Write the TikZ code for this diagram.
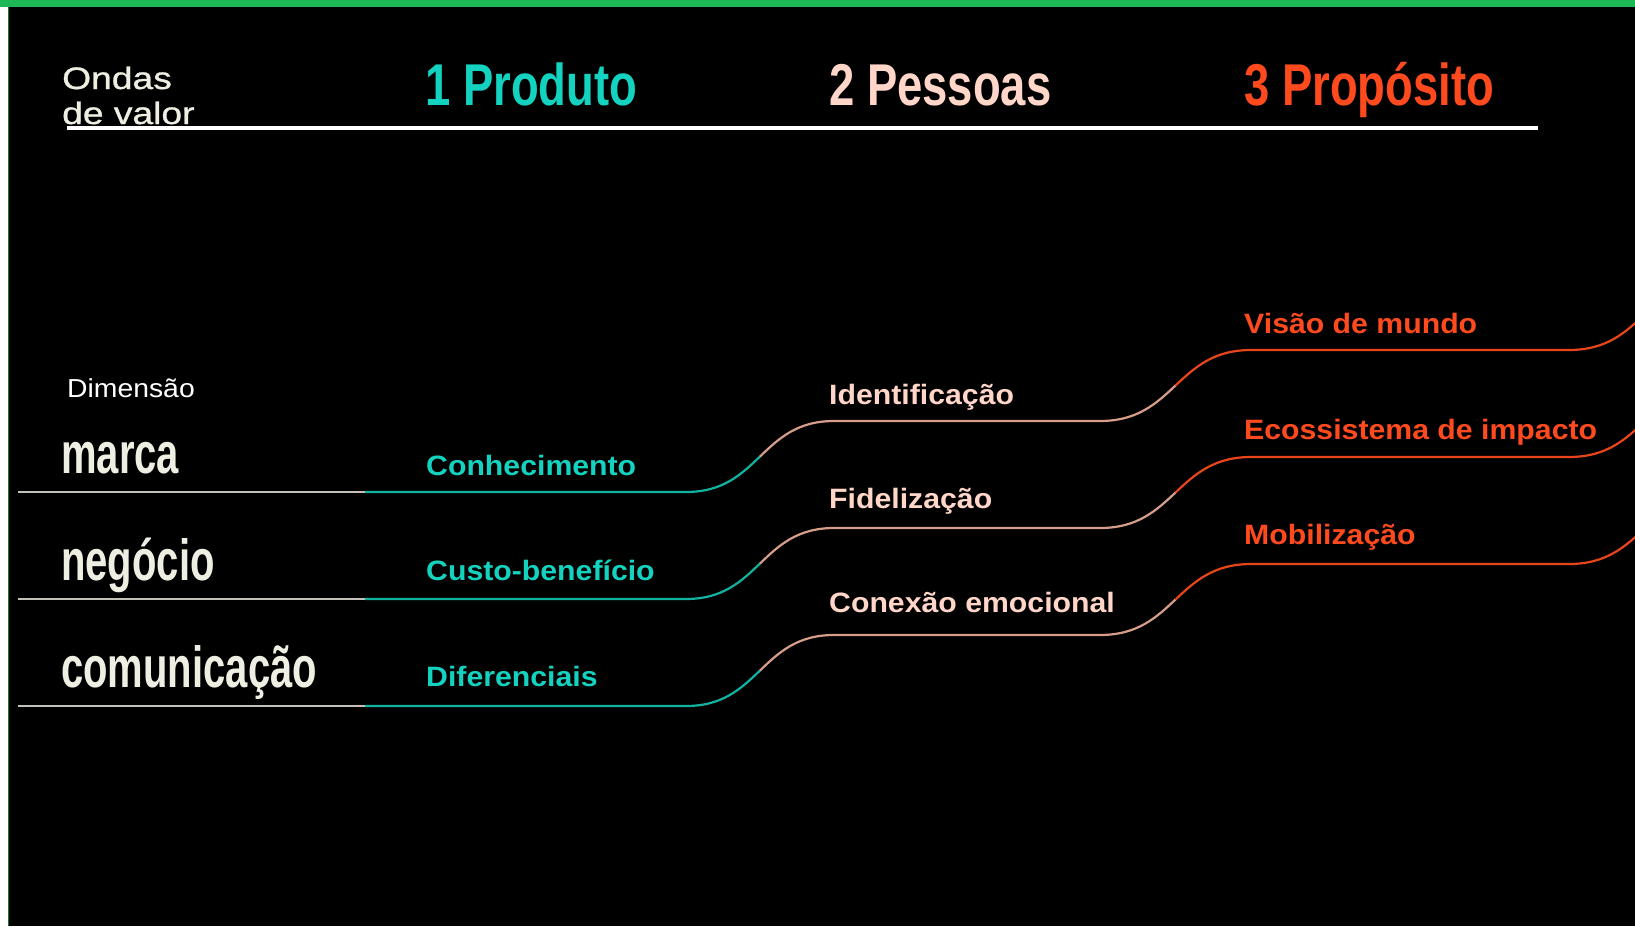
\documentclass[tikz,border=0pt]{standalone}
\usepackage{fontspec}
\setmainfont{Liberation Sans}
\newfontfamily\headfont[FakeStretch=0.77]{Liberation Sans Bold}
\newfontfamily\dimfont[FakeStretch=0.69]{Liberation Sans Bold}
\newfontfamily\labfont[FakeStretch=1.08]{Liberation Sans Bold}
\newfontfamily\ondfont[FakeStretch=1.2,FakeBold=1]{Liberation Sans}
\newfontfamily\dmsfont[FakeStretch=1.09]{Liberation Sans}
\definecolor{cTeal}{RGB}{20,210,192}
\definecolor{cTealLine}{RGB}{16,178,160}
\definecolor{cPeach}{RGB}{255,214,200}
\definecolor{cPeachLine}{RGB}{214,158,138}
\definecolor{cOrange}{RGB}{255,74,30}
\definecolor{cOrangeLine}{RGB}{232,70,26}
\definecolor{cCream}{RGB}{238,238,226}
\definecolor{cGrayLine}{RGB}{196,194,182}
\definecolor{cGreen}{RGB}{30,184,86}
\definecolor{cGreenDark}{RGB}{14,120,60}
\tikzset{
  lbl/.style={anchor=base west, inner sep=0pt},
  headtxt/.style={lbl, font=\headfont\fontsize{59}{59}\selectfont},
  dimtxt/.style={lbl, text=cCream, font=\dimfont\fontsize{58}{58}\selectfont},
  labtxt/.style={lbl, font=\labfont\fontsize{28}{28}\selectfont},
  grayline/.style={draw=cGrayLine, line width=2.2pt},
  tealline/.style={draw=cTealLine, line width=2.2pt},
  peachline/.style={draw=cPeachLine, line width=2.2pt},
  orangeline/.style={draw=cOrangeLine, line width=2.2pt}
}
\begin{document}
\begin{tikzpicture}[x=1pt,y=-1pt]
\useasboundingbox (0,0) rectangle (1635,926);
\fill[black] (0,0) rectangle (1635,926);
\fill[cGreen] (0,0) rectangle (1635,7);
\fill[white] (0,7) rectangle (8,926);
\draw[cGreenDark, line width=1pt] (8.5,7) -- (8.5,926);
\clip (9,7) rectangle (1635,926);

% header
\node[lbl, text=cCream, font=\ondfont\fontsize{31}{31}\selectfont] (ondas) at (62,89) {Ondas};
\node[lbl, text=cCream, font=\ondfont\fontsize{31}{31}\selectfont] (devalor) at (62,124) {de valor};
\node[headtxt, text=cTeal] (produto) at (425,105) {1 Produto};
\node[headtxt, text=cPeach] (pessoas) at (829,105) {2 Pessoas};
\node[headtxt, text=cOrange] (proposito) at (1244,105) {3 Propósito};
\coordinate (hl0) at (67,128);
\coordinate (hl1) at (1538,128);
\draw[white, line width=4pt] (hl0) -- (hl1);

% dimension column
\node[lbl, text=white, font=\dmsfont\fontsize{26}{26}\selectfont] (dimensao) at (67,397) {Dimensão};
\node[dimtxt] (marca) at (61,473) {marca};
\node[dimtxt] (negocio) at (61,580) {negócio};
\node[dimtxt] (comunicacao) at (61,687) {comunicação};

% wave lines
\foreach \yy in {492,599,706}{
  \begin{scope}[shift={(0,\yy)}]
    \draw[grayline] (18,0) -- (365,0);
    \draw[tealline] (365,0) -- (686,0) .. controls (723,0) and (741.5,-17.75) .. (760,-35.5);
    \draw[peachline] (760,-35.5) .. controls (778.5,-53.25) and (797,-71) .. (834,-71)
      -- (1100,-71) .. controls (1137.75,-71) and (1156.6,-88.75) .. (1175.5,-106.5);
    \draw[orangeline] (1175.5,-106.5) .. controls (1194.4,-124.25) and (1213.25,-142) .. (1251,-142)
      -- (1569,-142) .. controls (1644.5,-142) and (1644.5,-213) .. (1720,-213);
  \end{scope}
}

% labels
\node[labtxt, text=cTeal] (conhecimento) at (426,475) {Conhecimento};
\node[labtxt, text=cTeal] (custo) at (426,580) {Custo-benefício};
\node[labtxt, text=cTeal] (diferenciais) at (426,686) {Diferenciais};
\node[labtxt, text=cPeach] (identificacao) at (829,404) {Identificação};
\node[labtxt, text=cPeach] (fidelizacao) at (829,508) {Fidelização};
\node[labtxt, text=cPeach] (conexao) at (829,612) {Conexão emocional};
\node[labtxt, text=cOrange] (visao) at (1244,333.5) {Visão de mundo};
\node[labtxt, text=cOrange] (ecossistema) at (1244,439) {Ecossistema de impacto};
\node[labtxt, text=cOrange] (mobilizacao) at (1244,544) {Mobilização};
\end{tikzpicture}
\end{document}
